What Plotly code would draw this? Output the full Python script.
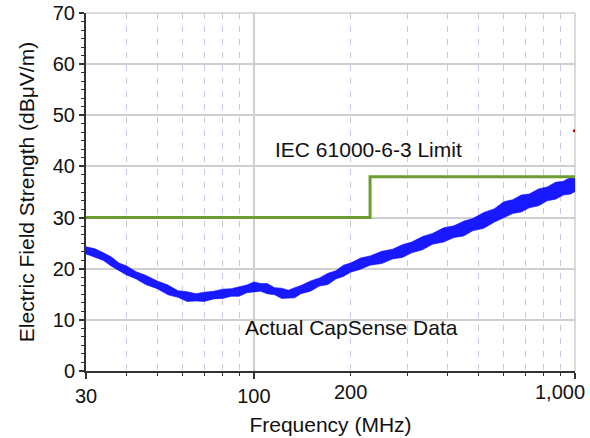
import math
import plotly.graph_objects as go

# ---- data ----
freq_mhz = [30, 32, 34, 36, 38, 40, 43, 46, 50, 54, 58, 62, 66, 70, 75, 80, 85, 90, 95,
            100, 105, 110, 116, 122, 128, 134, 140, 150, 160, 170, 180, 190, 200, 215,
            230, 250, 270, 290, 310, 335, 360, 390, 420, 450, 480, 520, 560, 600, 640,
            680, 720, 770, 820, 870, 920, 970, 1000]
data_low = [22.9, 22.2, 21.6, 20.5, 19.6, 18.8, 18.0, 16.9, 16.1, 14.9, 14.4, 13.6, 13.7,
            13.6, 14.1, 14.2, 14.6, 14.6, 15.3, 15.5, 15.6, 15.1, 14.9, 14.2, 14.3, 14.3,
            15.1, 15.6, 16.6, 16.9, 18.0, 18.5, 19.3, 19.9, 20.7, 21.0, 21.9, 22.2, 23.1,
            23.7, 24.8, 25.2, 26.1, 26.4, 27.4, 27.9, 29.1, 29.9, 30.8, 31.1, 31.9, 32.3,
            33.3, 33.6, 34.4, 34.6, 35.1]
data_high = [24.3, 23.9, 23.1, 22.3, 21.1, 20.6, 19.4, 18.7, 17.6, 16.8, 15.7, 15.5, 15.1,
             15.4, 15.6, 16.0, 16.1, 16.4, 16.8, 17.4, 17.1, 17.1, 16.3, 16.2, 15.8, 16.3,
             16.7, 17.6, 18.2, 19.1, 19.6, 20.7, 21.1, 22.1, 22.5, 23.4, 23.8, 24.7, 25.2,
             26.3, 26.9, 28.0, 28.4, 29.3, 29.8, 31.0, 31.7, 33.1, 33.5, 34.4, 34.6, 35.6,
             36.0, 36.9, 37.1, 37.9, 37.7]

limit_freq = [30, 230, 1000]
limit_level = [30, 38, 38]

marker_freq = [995]
marker_level = [47]

x_tickvals = [30, 100, 1000]
x_ticktext = ["30", "100", ""]
x_minor = [40, 50, 60, 70, 80, 90, 200, 300, 400, 500, 600, 700, 800, 900]
y_tickvals = [0, 10, 20, 30, 40, 50, 60, 70]
extra_labels = [(200, "200", 0), (1000, "1,000", -15)]

FONT = "Liberation Sans, Arial, sans-serif"
AXIS = "#333333"
TXT = "#111111"

fig = go.Figure()

# noisy measured band
fig.add_trace(go.Scatter(x=freq_mhz, y=data_low, mode="lines",
                         line=dict(color="rgba(0,0,255,0.55)", width=1), showlegend=False,
                         hoverinfo="skip"))
fig.add_trace(go.Scatter(x=freq_mhz, y=data_high, mode="lines", fill="tonexty",
                         fillcolor="rgba(0,0,255,0.9)",
                         line=dict(color="rgba(0,0,255,0.55)", width=1), showlegend=False))

# limit line
fig.add_trace(go.Scatter(x=limit_freq, y=limit_level, mode="lines", line_shape="hv",
                         line=dict(color="#6f9c32", width=3), showlegend=False,
                         cliponaxis=False))

fig.add_trace(go.Scatter(x=marker_freq, y=marker_level, mode="markers",
                         marker=dict(color="#c00000", size=3), showlegend=False))

fig.update_layout(
    width=590, height=438,
    margin=dict(l=86, r=15, t=13, b=67),
    plot_bgcolor="white", paper_bgcolor="white",
    font=dict(family=FONT, size=21, color=TXT),
    showlegend=False,
)

fig.update_xaxes(
    type="log", range=[math.log10(30), 3], automargin=False,
    tickvals=x_tickvals, ticktext=x_ticktext, ticklabeloverflow="allow",
    ticks="outside", ticklen=6, tickwidth=1.5, tickcolor=AXIS,
    showline=True, linecolor=AXIS, linewidth=2,
    showgrid=True, gridcolor="#cfcfcf", gridwidth=1.5,
    zeroline=False,
    tickfont=dict(size=20, family=FONT, color=TXT),
    title=dict(text="Frequency (MHz)", font=dict(size=21, family=FONT, color=TXT),
               standoff=11),
    minor=dict(tickmode="array", tickvals=x_minor, ticks="outside", ticklen=3,
               tickcolor=AXIS, tickwidth=1.2,
               showgrid=True, gridcolor="#c8c8e6", griddash="6px,7px", gridwidth=1.3),
)

fig.update_yaxes(
    range=[0, 70], tickvals=y_tickvals, automargin=False, ticklabeloverflow="allow",
    ticks="outside", ticklen=5, tickwidth=1.5, tickcolor=AXIS,
    showline=True, linecolor=AXIS, linewidth=2,
    showgrid=True, gridcolor="#cfcfcf", gridwidth=1.5,
    zeroline=False,
    tickfont=dict(size=20, family=FONT, color=TXT),
    title=dict(text="Electric Field Strength (dBμV/m)",
               font=dict(size=21, family=FONT, color=TXT), standoff=12),
    minor=dict(dtick=10 / 6, ticks="outside", ticklen=3, tickcolor=AXIS, tickwidth=1.2,
               showgrid=False),
)

# plot frame (top and right) in grid colour
fig.add_shape(type="line", xref="paper", yref="paper", x0=1, x1=1, y0=0, y1=1,
              line=dict(color="#cfcfcf", width=1.5), layer="below")
fig.add_shape(type="line", xref="paper", yref="paper", x0=0, x1=1, y0=1, y1=1,
              line=dict(color="#cfcfcf", width=1.5), layer="below")

for val, txt, shift in extra_labels:
    fig.add_annotation(x=math.log10(val), xref="x", y=0, yref="paper", text=txt,
                       showarrow=False, yanchor="top", yshift=-8, xshift=shift,
                       font=dict(size=20, family=FONT, color=TXT))

fig.add_annotation(x=math.log10(228), y=43.3, xref="x", yref="y",
                   text="IEC 61000-6-3 Limit", showarrow=False,
                   font=dict(size=21, family=FONT, color=TXT))
fig.add_annotation(x=math.log10(201), y=8.6, xref="x", yref="y",
                   text="Actual CapSense Data", showarrow=False,
                   font=dict(size=21, family=FONT, color=TXT))

# remove the default page margin so the figure fills the window exactly
fig.write_html("out.html", config={"displayModeBar": False},
               post_script="document.body.style.margin='0px';")
